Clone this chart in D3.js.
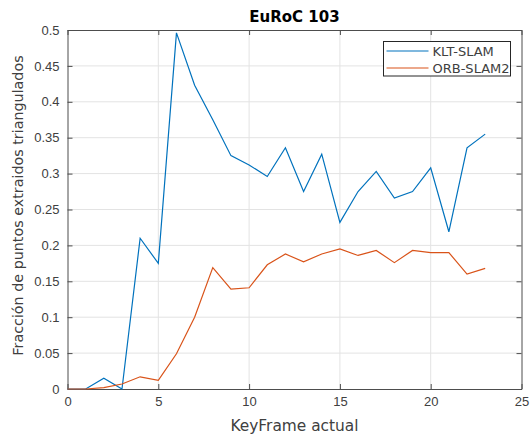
<!DOCTYPE html>
<html>
<head>
<meta charset="utf-8">
<script src="https://cdn.jsdelivr.net/npm/d3@7"></script>
<style>
  body { margin: 0; background: #fff; }
  svg { display: block; font-family: "DejaVu Sans", sans-serif; }
</style>
</head>
<body>
<svg id="chart" width="532" height="438"></svg>
<script>
// keyframes 0..23
var keyframes = d3.range(0, 24);
var kltSlam = [0, 0, 0.015, 0, 0.21, 0.175, 0.496, 0.423, 0.375, 0.325, 0.312, 0.296,
    0.336, 0.275, 0.327, 0.232, 0.275, 0.303, 0.266, 0.275, 0.308, 0.219, 0.336, 0.355];
var orbSlam2 = [0, 0, 0.002, 0.007, 0.017, 0.012, 0.049, 0.1, 0.169, 0.139, 0.141, 0.173,
    0.188, 0.177, 0.188, 0.195, 0.186, 0.193, 0.176, 0.193, 0.19, 0.19, 0.16, 0.168];
var xTicks = [0, 5, 10, 15, 20, 25];
var yTicks = [0, 0.05, 0.1, 0.15, 0.2, 0.25, 0.3, 0.35, 0.4, 0.45, 0.5];
var seriesNames = ["KLT-SLAM", "ORB-SLAM2"];
var seriesColors = ["#0072bd", "#d95319"];

var margin = { top: 30, right: 10.5, bottom: 49, left: 67.5 };
var width = 532 - margin.left - margin.right;
var height = 438 - margin.top - margin.bottom;

var svg = d3.select("#chart");
var g = svg.append("g").attr("transform", "translate(" + margin.left + "," + margin.top + ")");

var x = d3.scaleLinear().domain([0, 25]).range([0, width]);
var y = d3.scaleLinear().domain([0, 0.5]).range([height, 0]);

// grid
g.append("g").selectAll("line").data(xTicks.slice(1, -1)).join("line")
    .attr("x1", function (d) { return x(d); }).attr("x2", function (d) { return x(d); })
    .attr("y1", 0).attr("y2", height)
    .attr("stroke", "#e3e3e3").attr("stroke-width", 1);
g.append("g").selectAll("line").data(yTicks.slice(1, -1)).join("line")
    .attr("y1", function (d) { return y(d); }).attr("y2", function (d) { return y(d); })
    .attr("x1", 0).attr("x2", width)
    .attr("stroke", "#e3e3e3").attr("stroke-width", 1);

// axes (ticks inward, MATLAB box style)
var fmt = function (d) { return d3.format("")(+d.toFixed(2)); };
var axisColor = "#4d4d4d";
var textColor = "#404040";

function styleAxis(sel) {
    sel.selectAll(".domain").attr("stroke", axisColor);
    sel.selectAll(".tick line").attr("stroke", axisColor);
    sel.selectAll(".tick text").attr("fill", textColor).style("font-size", "13px");
}

g.append("g").attr("transform", "translate(0," + height + ")")
    .call(d3.axisBottom(x).tickValues(xTicks).tickSize(-5).tickSizeOuter(0).tickPadding(8).tickFormat(fmt))
    .call(styleAxis);
g.append("g")
    .call(d3.axisLeft(y).tickValues(yTicks).tickSize(-5).tickSizeOuter(0).tickPadding(8).tickFormat(fmt))
    .call(styleAxis);
g.append("g")
    .call(d3.axisTop(x).tickValues(xTicks).tickSize(-5).tickSizeOuter(0).tickFormat(""))
    .call(styleAxis);
g.append("g").attr("transform", "translate(" + width + ",0)")
    .call(d3.axisRight(y).tickValues(yTicks).tickSize(-5).tickSizeOuter(0).tickFormat(""))
    .call(styleAxis);

// lines
var line = d3.line()
    .x(function (d, i) { return x(keyframes[i]); })
    .y(function (d) { return y(d); });

[kltSlam, orbSlam2].forEach(function (s, i) {
    g.append("path")
        .attr("fill", "none")
        .attr("stroke", seriesColors[i])
        .attr("stroke-width", 1.2)
        .attr("d", line(s));
});

// title + labels
svg.append("text")
    .attr("x", margin.left + width / 2).attr("y", 22)
    .attr("text-anchor", "middle")
    .style("font-size", "15px").style("font-weight", "bold")
    .attr("fill", "#000")
    .text("EuRoC 103");

svg.append("text")
    .attr("x", margin.left + width / 2).attr("y", 431)
    .attr("text-anchor", "middle")
    .style("font-size", "15.4px")
    .attr("fill", textColor)
    .text("KeyFrame actual");

svg.append("text")
    .attr("transform", "translate(23," + (margin.top + height / 2 - 4) + ") rotate(-90)")
    .attr("text-anchor", "middle")
    .style("font-size", "14.3px")
    .attr("fill", textColor)
    .text("Fracción de puntos extraidos triangulados");

// legend
var legend = g.append("g").attr("transform", "translate(" + (383.5 - margin.left) + "," + (41.5 - margin.top) + ")");
legend.append("rect")
    .attr("width", 127).attr("height", 34.5)
    .attr("fill", "#fff").attr("stroke", "#262626").attr("stroke-width", 1);
seriesNames.forEach(function (name, i) {
    var ly = 9.5 + i * 17;
    legend.append("line")
        .attr("x1", 3).attr("x2", 45).attr("y1", ly).attr("y2", ly)
        .attr("stroke", seriesColors[i]).attr("stroke-width", 1.2);
    legend.append("text")
        .attr("x", 49).attr("y", ly + 4.5)
        .style("font-size", "13px")
        .attr("fill", textColor)
        .text(name);
});
</script>
</body>
</html>
